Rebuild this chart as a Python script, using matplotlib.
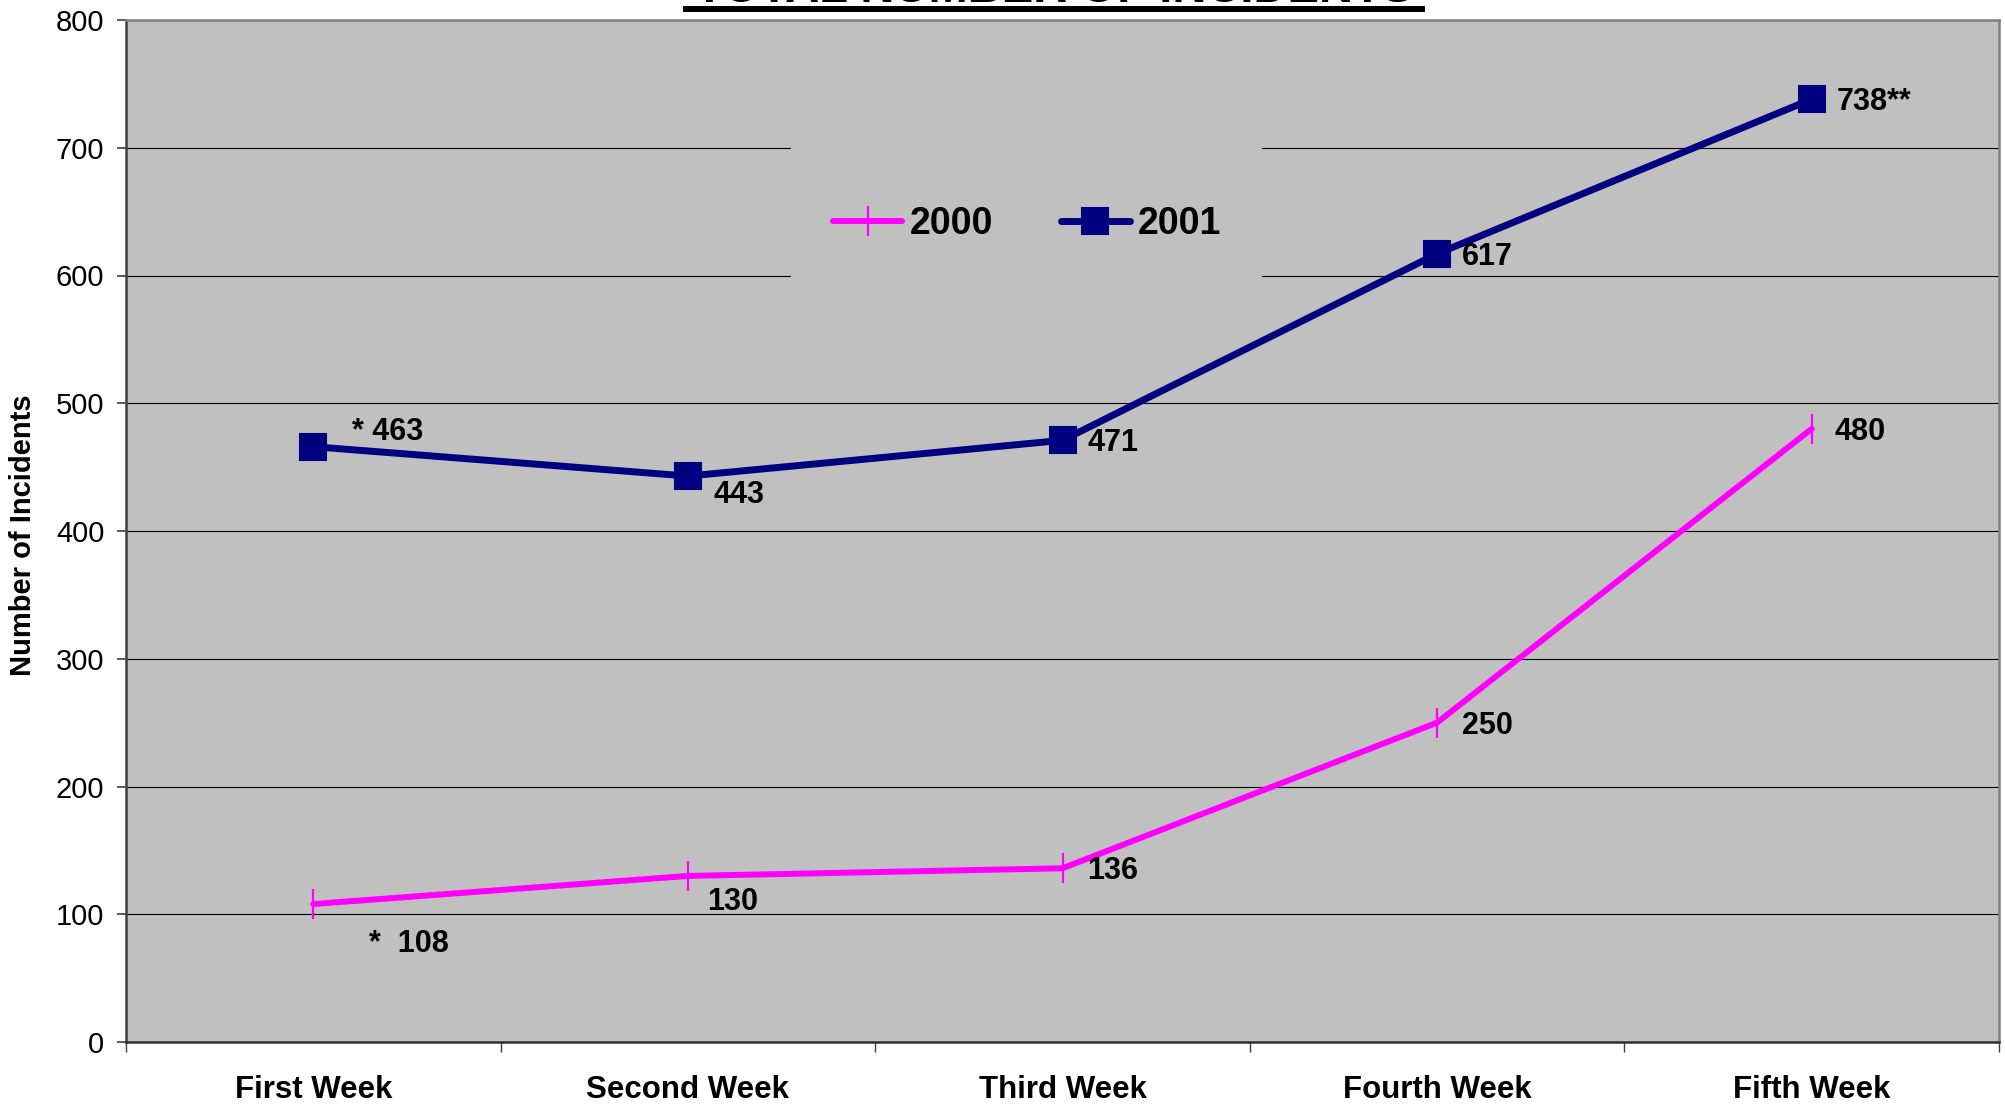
import matplotlib
matplotlib.use("Agg")
import matplotlib.pyplot as plt
from matplotlib.patches import Rectangle
from matplotlib.lines import Line2D

# data
weeks = ["First Week", "Second Week", "Third Week", "Fourth Week", "Fifth Week"]
incidents_2000 = [108, 130, 136, 250, 480]
incidents_2001 = [466, 443, 471, 617, 738]
labels_2000 = ["*  108", "130", "136", "250", "480"]
labels_2001 = ["* 463", "443", "471", "617", "738**"]

# label offsets in pixels (dx, dy) from each point, left/center anchored
offs_2000 = [(56, -40), (19, -26), (25, -3), (25, -3), (23, -3)]
offs_2001 = [(39, 15), (26, -19), (25, -3), (25, -3), (25, -3)]

plt.rcParams['font.family'] = ['Liberation Sans', 'DejaVu Sans']

W, H = 2006, 1105
fig = plt.figure(figsize=(W / 100, H / 100), dpi=100)
ax = fig.add_axes([126 / W, 1 - 1042 / H, (1999 - 126) / W, (1042 - 20) / H])
ax.set_facecolor('#C0C0C0')

x = list(range(len(weeks)))
ax.plot(x, incidents_2000, color='#FF00FF', lw=4.3, marker='|', ms=21,
        mew=1.6, solid_capstyle='round', label='2000', zorder=3)
ax.plot(x, incidents_2001, color='#000080', lw=5, marker='s', ms=19,
        mew=1.5, solid_capstyle='round', label='2001', zorder=3)

for xi, v, t, (dx, dy) in zip(x, incidents_2000, labels_2000, offs_2000):
    ax.annotate(t, (xi, v), xytext=(dx * 0.72, dy * 0.72), textcoords='offset points',
                ha='left', va='center', fontsize=22, fontweight='bold')
for xi, v, t, (dx, dy) in zip(x, incidents_2001, labels_2001, offs_2001):
    ax.annotate(t, (xi, v), xytext=(dx * 0.72, dy * 0.72), textcoords='offset points',
                ha='left', va='center', fontsize=22, fontweight='bold')

ax.set_xlim(-0.5, len(weeks) - 0.5)
ax.set_ylim(0, 800)
ax.set_yticks(range(0, 801, 100))
ax.tick_params(axis='y', labelsize=21, length=6.5, width=1.2, pad=9, color='#404040')
ax.set_xticks(x)
ax.set_xticklabels(weeks, fontsize=22.5, fontweight='bold')
ax.tick_params(axis='x', length=0, pad=24)
ax.set_xticks([i + 0.5 for i in range(-1, len(weeks))], minor=True)
ax.tick_params(axis='x', which='minor', length=7.5, width=1, color='#404040')

ax.grid(axis='y', color='black', lw=0.8)
ax.set_axisbelow(True)

for side, c in [('left', '#404040'), ('bottom', '#303030'), ('top', '#808080'), ('right', '#808080')]:
    ax.spines[side].set_color(c)
    ax.spines[side].set_linewidth(1.8)

fig.text(23 / W, 1 - 535 / H, 'Number of Incidents', rotation=90, ha='center', va='center',
         fontsize=21, fontweight='bold')

# gray box behind the legend hiding the gridlines
ax.add_patch(Rectangle((0.355, 0.73), 0.2515, 0.165, transform=ax.transAxes,
                       facecolor='#C0C0C0', edgecolor='none', zorder=1))

leg = ax.legend(loc='center', bbox_to_anchor=(1027 / W, 1 - 224 / H),
                bbox_transform=fig.transFigure, ncol=2, frameon=False,
                prop={'size': 27, 'weight': 'bold'}, handlelength=1.85,
                handletextpad=0.2, columnspacing=1.8)

# title, mostly cut off by the top edge, with underline
fig.text(1054 / W, 1 - 2 / H, 'TOTAL NUMBER OF INCIDENTS', ha='center', va='baseline',
         fontsize=34, fontweight='bold')
fig.add_artist(Line2D([686 / W, 1422 / W], [1 - 9 / H, 1 - 9 / H], color='black',
                      lw=4.3, transform=fig.transFigure))

fig.savefig('out.png', dpi=100)
